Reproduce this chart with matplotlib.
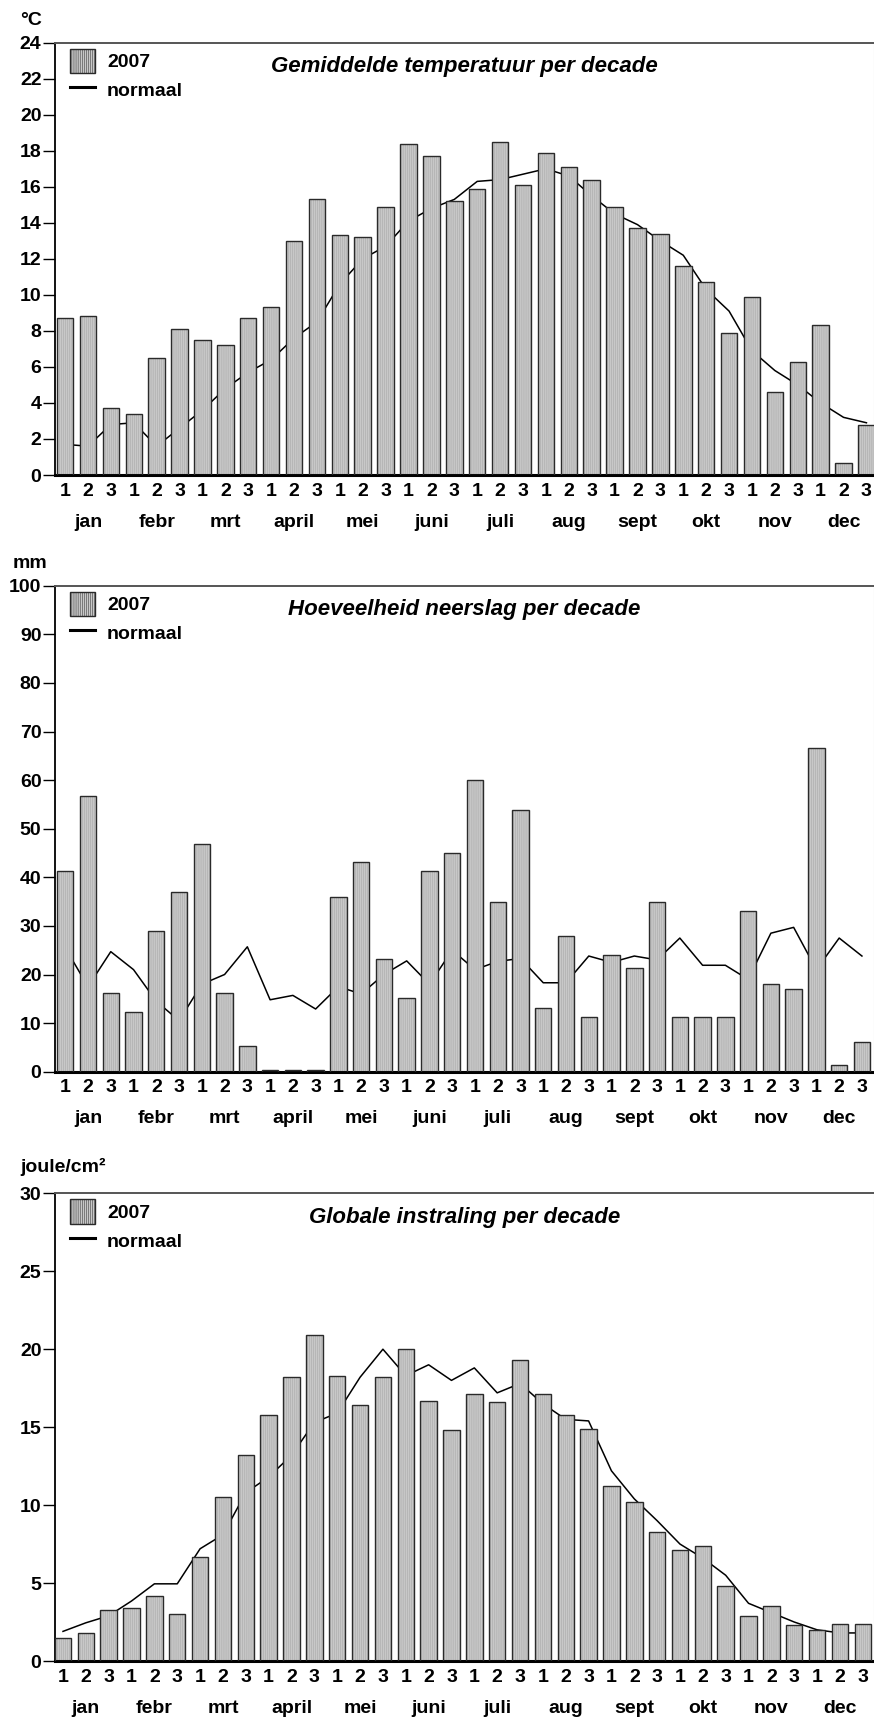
import numpy as np
import matplotlib
matplotlib.use('Agg')
import matplotlib.pyplot as plt
from matplotlib.patches import Patch
from matplotlib.lines import Line2D

plt.rcParams['font.family'] = ['Liberation Sans', 'DejaVu Sans']
plt.rcParams['font.weight'] = 'bold'
plt.rcParams['hatch.linewidth'] = 0.35

################## data ##################
decades = ['1', '2', '3'] * 12
months = ['jan', 'febr', 'mrt', 'april', 'mei', 'juni',
          'juli', 'aug', 'sept', 'okt', 'nov', 'dec']

temp_2007 = [8.7, 8.8, 3.7, 3.4, 6.5, 8.1, 7.5, 7.2, 8.7, 9.3, 13.0, 15.3,
             13.3, 13.2, 14.9, 18.4, 17.7, 15.2, 15.9, 18.5, 16.1, 17.9, 17.1, 16.4,
             14.9, 13.7, 13.4, 11.6, 10.7, 7.9, 9.9, 4.6, 6.3, 8.3, 0.65, 2.8]
temp_normal = [1.7, 1.6, 2.8, 2.9, 1.6, 2.6, 3.6, 4.8, 5.7, 6.4, 7.6, 8.5,
               10.6, 12.0, 12.7, 14.1, 14.8, 15.3, 16.3, 16.4, 16.7, 17.0, 16.6, 15.5,
               14.5, 13.9, 13.0, 12.2, 10.3, 9.1, 6.9, 5.8, 5.0, 4.0, 3.2, 2.9]

rain_2007 = [41.2, 56.7, 16.1, 12.3, 28.9, 37.0, 46.9, 16.1, 5.2, 0.4, 0.4, 0.4,
             35.9, 43.1, 23.2, 15.1, 41.2, 44.9, 60.0, 35.0, 53.9, 13.2, 27.9, 11.3,
             24.1, 21.3, 35.0, 11.3, 11.3, 11.3, 33.1, 18.0, 17.0, 66.7, 1.4, 6.1]
rain_normal = [25.5, 17.5, 24.7, 21.0, 14.5, 10.5, 18.0, 20.0, 25.7, 14.8, 15.7, 12.9,
               17.5, 16.0, 20.0, 22.8, 18.0, 25.0, 21.0, 22.7, 23.3, 18.3, 18.3, 23.8,
               22.5, 23.8, 23.0, 27.5, 21.9, 21.9, 19.0, 28.5, 29.7, 21.0, 27.5, 23.8]

rad_2007 = [1.5, 1.8, 3.3, 3.4, 4.2, 3.0, 6.7, 10.5, 13.2, 15.8, 18.2, 20.9,
            18.3, 16.4, 18.2, 20.0, 16.7, 14.8, 17.1, 16.6, 19.3, 17.1, 15.8, 14.9,
            11.2, 10.2, 8.3, 7.1, 7.4, 4.8, 2.9, 3.5, 2.3, 2.0, 2.4, 2.4]
rad_normal = [1.9, 2.45, 2.9, 3.85, 4.95, 4.95, 7.2, 8.1, 10.8, 11.8, 13.2, 15.3,
              15.9, 18.2, 20.0, 18.3, 19.0, 18.0, 18.8, 17.2, 17.8, 16.5, 15.5, 15.4,
              12.2, 10.4, 9.0, 7.5, 6.6, 5.5, 3.7, 3.1, 2.5, 2.0, 1.8, 1.8]

W, H = 874.0, 1720.0
BARGRAY = '#c8c8c8'
HATCH = '||||||||'


def drawPanel(ax, vals, normal, ymax, ystep, title, xlim, tpx):
    x = np.arange(len(vals))
    ax.plot(x, normal, color='black', lw=1.1, zorder=1)
    # textured fill, then the dark outline on top
    ax.bar(x, vals, width=0.72, color=BARGRAY, edgecolor='#a4a4a4',
           hatch=HATCH, linewidth=0, zorder=2)
    ax.bar(x, vals, width=0.72, fill=False, edgecolor='#2a2a2a',
           linewidth=1.0, zorder=3)

    ax.set_xlim(xlim)
    ax.set_ylim(0, ymax)
    ax.set_yticks(np.arange(0, ymax + 0.1, ystep))
    ax.set_xticks(x)
    ax.set_xticklabels(decades)
    ax.tick_params(axis='x', length=0, pad=5.5, labelsize=14)
    ax.tick_params(axis='y', length=8.6, width=1, pad=1.2, labelsize=14)

    ax.spines['bottom'].set_linewidth(2.2)
    ax.spines['bottom'].set_color('black')
    ax.spines['left'].set_linewidth(1.3)
    ax.spines['top'].set_color('#555555')
    ax.spines['top'].set_linewidth(1.4)
    ax.spines['right'].set_color('#d0d0d0')

    for m in range(12):
        ax.annotate(months[m], xy=(3 * m + 1, 0), xycoords=('data', 'axes fraction'),
                    xytext=(0, -34), textcoords='offset points',
                    ha='center', va='center', fontsize=14, fontweight='bold')

    # title a fixed distance below the top frame
    ax.text(0.5, 1 - 24.0 / tpx, title, transform=ax.transAxes, ha='center',
            va='center', fontsize=16, fontweight='bold', fontstyle='italic')

    handles = [Patch(facecolor=BARGRAY, edgecolor='#2a2a2a', hatch=HATCH, lw=1.0),
               Line2D([0], [0], color='black', lw=2.2)]
    leg = ax.legend(handles, ['2007', 'normaal'], loc='upper left',
                    frameon=False, fontsize=14, handlelength=1.3,
                    handleheight=1.55, handletextpad=0.6, labelspacing=0.25,
                    borderpad=0, borderaxespad=0,
                    bbox_to_anchor=((70 - 55) / (W - 55), 1 - 6.0 / tpx))
    for t in leg.get_texts():
        t.set_fontweight('bold')
    return ax


################## Main Function #################
fig = plt.figure(figsize=(8.74, 17.2), dpi=100)

# (top px, zero px, xlim) for each panel
panels = [
    (42.7, 475.0, (-0.44, 35.33), temp_2007, temp_normal, 24, 2,
     'Gemiddelde temperatuur per decade', '°C', 20, 20.7),
    (585.7, 1071.7, (-0.45, 35.53), rain_2007, rain_normal, 100, 10,
     'Hoeveelheid neerslag per decade', 'mm', 13, 563.3),
    (1193.3, 1661.0, (-0.35, 35.49), rad_2007, rad_normal, 30, 5,
     'Globale instraling per decade', 'joule/cm²', 20, 1166.7),
]

for top, zero, xlim, vals, normal, ymax, ystep, title, unit, ux, uy in panels:
    ax = fig.add_axes([55 / W, 1 - zero / H, (W - 55) / W, (zero - top) / H])
    drawPanel(ax, vals, normal, ymax, ystep, title, xlim, zero - top)
    fig.text(ux / W, 1 - uy / H, unit, ha='left', va='center',
             fontsize=14, fontweight='bold')

fig.savefig('out.png', dpi=100)
